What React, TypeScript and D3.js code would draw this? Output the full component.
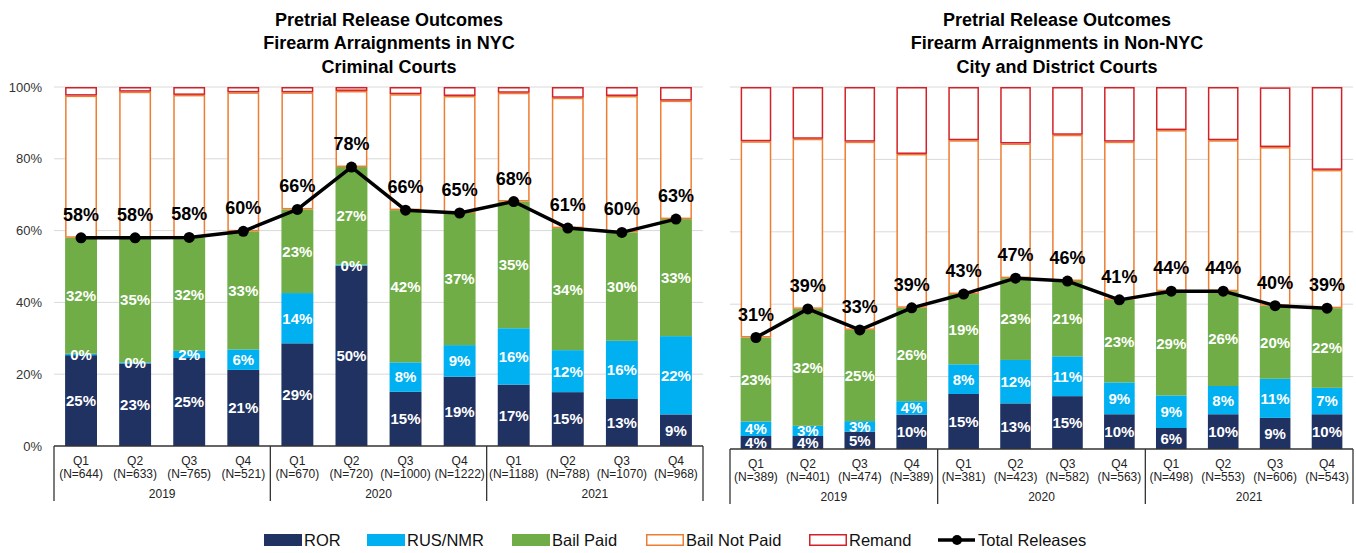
import { useEffect, useRef } from "react";
import * as d3 from "d3";

// categories
const quarterLabels = ["Q1", "Q2", "Q3", "Q4", "Q1", "Q2", "Q3", "Q4", "Q1", "Q2", "Q3", "Q4"];
const yearLabels = ["2019", "2020", "2021"];
const nycN = [644, 633, 765, 521, 670, 720, 1000, 1222, 1188, 788, 1070, 968];
const nonNycN = [389, 401, 474, 389, 381, 423, 582, 563, 498, 553, 606, 543];

// NYC Criminal Courts (% of arraignments)
const nycROR = [25.3, 23.0, 24.5, 21.2, 28.6, 50.2, 15.1, 19.3, 17.1, 15.0, 13.1, 8.8];
const nycRUS = [0.4, 0.3, 2.0, 5.7, 14.0, 0.3, 8.2, 8.8, 15.7, 11.7, 16.2, 21.8];
const nycBailPaid = [32.3, 34.7, 31.6, 32.9, 23.3, 27.2, 42.4, 36.8, 35.3, 34.0, 30.2, 32.6];
const nycBailNotPaid = [39.6, 40.7, 39.7, 38.7, 32.6, 21.2, 32.3, 32.6, 30.3, 36.3, 38.0, 33.0];
const nycRemand = [2.4, 1.3, 2.2, 1.5, 1.5, 1.1, 2.0, 2.5, 1.6, 3.0, 2.5, 3.8];
const nycTotal = [58.0, 58.0, 58.1, 59.8, 65.9, 77.7, 65.7, 64.9, 68.1, 60.7, 59.5, 63.2];

// Non-NYC City and District Courts
const nonROR = [3.6, 3.6, 4.8, 9.5, 15.2, 12.6, 14.6, 9.6, 5.8, 9.6, 8.6, 9.6];
const nonRUS = [4.0, 2.8, 2.9, 3.7, 8.2, 12.0, 11.0, 8.8, 9.0, 7.8, 10.8, 7.3];
const nonBailPaid = [23.2, 32.3, 25.2, 25.8, 19.4, 22.6, 20.8, 22.8, 28.8, 26.2, 20.2, 22.0];
const nonBailNotPaid = [54.2, 47.0, 52.0, 42.5, 42.5, 37.2, 40.4, 43.7, 44.5, 41.7, 43.8, 38.2];
const nonRemand = [15.0, 14.3, 15.1, 18.5, 14.7, 15.6, 13.2, 15.1, 11.9, 14.7, 16.5, 22.9];
const nonTotal = [30.8, 38.7, 32.9, 39.0, 42.8, 47.2, 46.4, 41.2, 43.6, 43.6, 39.6, 38.9];

const yTicks = [0, 20, 40, 60, 80, 100];

const seriesNames = ["ROR", "RUS/NMR", "Bail Paid", "Bail Not Paid", "Remand"];
const keys = ["ror", "rus", "bail", "bnp", "remand"];
const colors = {
  ror: "#203262",
  rus: "#00B0F0",
  bail: "#70AD47",
  bnp: "#ED7D31",
  remand: "#D42127",
};
const outlined = new Set(["bnp", "remand"]);
const font = "Liberation Sans, Arial, Helvetica, sans-serif";

function drawPanel(svg, p) {
  const rows = quarterLabels.map((q, i) => ({
    i,
    ror: p.ror[i],
    rus: p.rus[i],
    bail: p.bail[i],
    bnp: p.bnp[i],
    remand: p.remand[i],
  }));

  const x = d3.scaleBand()
    .domain(rows.map(d => d.i))
    .range([p.x0, p.x1])
    .paddingInner(0.41)
    .paddingOuter(0.205);
  const y = d3.scaleLinear().domain([0, 100]).range([p.yBottom, p.yTop]);
  const step = x.step();
  const cx = i => x(i) + x.bandwidth() / 2;

  const g = svg.append("g");

  // title
  g.append("text")
    .attr("x", p.titleX)
    .attr("text-anchor", "middle")
    .attr("font-family", font)
    .attr("font-weight", "bold")
    .attr("font-size", 18)
    .selectAll("tspan")
    .data(p.title)
    .join("tspan")
      .attr("x", p.titleX)
      .attr("y", (d, k) => 25.5 + k * 23.5)
      .text(d => d);

  // gridlines
  g.append("g")
    .selectAll("line")
    .data(yTicks.filter(t => t > 0))
    .join("line")
      .attr("x1", p.x0)
      .attr("x2", p.x1)
      .attr("y1", d => y(d))
      .attr("y2", d => y(d))
      .attr("stroke", "#d9d9d9")
      .attr("stroke-width", 1);

  if (p.showY) {
    g.append("g")
      .selectAll("text")
      .data(yTicks)
      .join("text")
        .attr("x", p.x0 - 12)
        .attr("y", d => y(d))
        .attr("dy", "0.35em")
        .attr("text-anchor", "end")
        .attr("font-family", font)
        .attr("font-size", 13)
        .attr("fill", "#333")
        .text(d => d + "%");
  }

  const stacked = d3.stack().keys(keys)(rows);

  stacked.forEach(layer => {
    const k = layer.key;
    const o = outlined.has(k);
    g.append("g")
      .selectAll("rect")
      .data(layer)
      .join("rect")
        .attr("x", (d, i) => x(i) + (o ? 0.75 : 0))
        .attr("y", d => y(d[1]) + (o ? 0.75 : 0))
        .attr("width", x.bandwidth() - (o ? 1.5 : 0))
        .attr("height", d => Math.max(0, y(d[0]) - y(d[1]) - (o ? 1.5 : 0)))
        .attr("fill", o ? "#fff" : colors[k])
        .attr("stroke", o ? colors[k] : "none")
        .attr("stroke-width", 1.5);
  });

  // segment labels
  stacked.filter(l => !outlined.has(l.key)).forEach(layer => {
    g.append("g")
      .selectAll("text")
      .data(layer)
      .join("text")
        .attr("x", (d, i) => cx(i))
        .attr("y", d => y((d[0] + d[1]) / 2))
        .attr("dy", "0.36em")
        .attr("text-anchor", "middle")
        .attr("font-family", font)
        .attr("font-weight", "bold")
        .attr("font-size", 15)
        .attr("fill", "#fff")
        .text(d => Math.round(d[1] - d[0]) + "%");
  });

  // total releases line
  const line = d3.line().x((d, i) => cx(i)).y(d => y(d));
  g.append("path")
    .datum(p.total)
    .attr("d", line)
    .attr("fill", "none")
    .attr("stroke", "#000")
    .attr("stroke-width", 3.5)
    .attr("stroke-linejoin", "round");
  g.append("g")
    .selectAll("circle")
    .data(p.total)
    .join("circle")
      .attr("cx", (d, i) => cx(i))
      .attr("cy", d => y(d))
      .attr("r", 5.5)
      .attr("fill", "#000");
  g.append("g")
    .selectAll("text")
    .data(p.total)
    .join("text")
      .attr("x", (d, i) => cx(i))
      .attr("y", d => y(d) - 17)
      .attr("text-anchor", "middle")
      .attr("font-family", font)
      .attr("font-weight", "bold")
      .attr("font-size", 18)
      .attr("fill", "#000")
      .text(d => Math.round(d) + "%");

  // category table
  g.append("line")
    .attr("x1", p.x0).attr("x2", p.x1)
    .attr("y1", p.yBottom).attr("y2", p.yBottom)
    .attr("stroke", "#333").attr("stroke-width", 1.3);
  g.append("g")
    .selectAll("line")
    .data(d3.range(yearLabels.length + 1))
    .join("line")
      .attr("x1", k => p.x0 + k * 4 * step)
      .attr("x2", k => p.x0 + k * 4 * step)
      .attr("y1", p.yBottom)
      .attr("y2", p.yBottom + 55)
      .attr("stroke", "#333")
      .attr("stroke-width", 1.3);

  const axisText = g.append("g")
    .attr("font-family", font)
    .attr("font-size", 12)
    .attr("fill", "#222")
    .attr("text-anchor", "middle");
  axisText.selectAll("text.q")
    .data(quarterLabels)
    .join("text")
      .attr("class", "q")
      .attr("x", (d, i) => cx(i))
      .attr("y", p.yBottom + 19)
      .text(d => d);
  axisText.selectAll("text.n")
    .data(p.n)
    .join("text")
      .attr("class", "n")
      .attr("x", (d, i) => cx(i))
      .attr("y", p.yBottom + 32)
      .text(d => `(N=${d})`);
  axisText.selectAll("text.yr")
    .data(yearLabels)
    .join("text")
      .attr("class", "yr")
      .attr("x", (d, k) => p.x0 + (k * 4 + 2) * step)
      .attr("y", p.yBottom + 52)
      .text(d => d);
}

export default function App() {
  const ref = useRef(null);

  useEffect(() => {
    const svg = d3.select(ref.current);
    svg.selectAll("*").remove();

    drawPanel(svg, {
      x0: 54, x1: 703, yTop: 87, yBottom: 446, showY: true,
      titleX: 389,
      title: ["Pretrial Release Outcomes", "Firearm Arraignments in NYC", "Criminal Courts"],
      ror: nycROR, rus: nycRUS, bail: nycBailPaid, bnp: nycBailNotPaid, remand: nycRemand,
      total: nycTotal, n: nycN,
    });
    drawPanel(svg, {
      x0: 730, x1: 1353, yTop: 87, yBottom: 449, showY: false,
      titleX: 1057,
      title: ["Pretrial Release Outcomes", "Firearm Arraignments in Non-NYC", "City and District Courts"],
      ror: nonROR, rus: nonRUS, bail: nonBailPaid, bnp: nonBailNotPaid, remand: nonRemand,
      total: nonTotal, n: nonNycN,
    });

    // legend
    const legendX = [264, 367, 512, 646, 809];
    const ly = 540;
    const sw = 38, sh = 12;
    const legend = svg.append("g");
    keys.forEach((k, i) => {
      const o = outlined.has(k);
      legend.append("rect")
        .attr("x", legendX[i] + (o ? 0.75 : 0))
        .attr("y", ly - sh / 2 + (o ? 0.75 : 0))
        .attr("width", sw - (o ? 1.5 : 0))
        .attr("height", sh - (o ? 1.5 : 0))
        .attr("fill", o ? "#fff" : colors[k])
        .attr("stroke", o ? colors[k] : "none")
        .attr("stroke-width", 1.5);
      legend.append("text")
        .attr("x", legendX[i] + sw + 2)
        .attr("y", ly + 6)
        .attr("font-family", font)
        .attr("font-size", 16.5)
        .attr("fill", "#111")
        .text(seriesNames[i]);
    });
    legend.append("line")
      .attr("x1", 938).attr("x2", 975)
      .attr("y1", ly).attr("y2", ly)
      .attr("stroke", "#000").attr("stroke-width", 3.5);
    legend.append("circle")
      .attr("cx", 957).attr("cy", ly).attr("r", 5).attr("fill", "#000");
    legend.append("text")
      .attr("x", 978)
      .attr("y", ly + 6)
      .attr("font-family", font)
      .attr("font-size", 16.5)
      .attr("fill", "#111")
      .text("Total Releases");
  }, []);

  return (
    <svg
      ref={ref}
      width={1356}
      height={553}
      style={{ position: "absolute", left: 0, top: 0, background: "#fff" }}
    />
  );
}
